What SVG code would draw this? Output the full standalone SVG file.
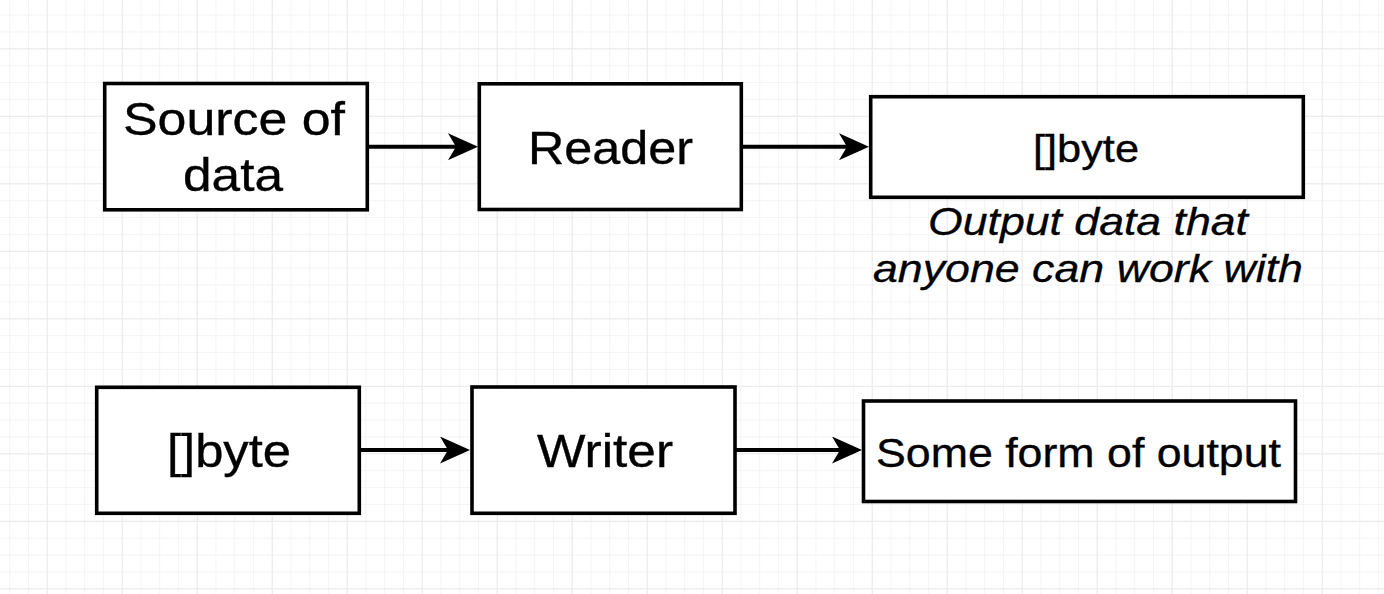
<svg xmlns="http://www.w3.org/2000/svg" width="1384" height="594" viewBox="0 0 1384 594">
  <style>
    .box { fill: #ffffff; stroke: #000000; stroke-width: 3.6; }
    .edge { fill: none; stroke: #000000; stroke-width: 4; }
    .lbl { font-family: "Liberation Sans", Arial, Helvetica, sans-serif; fill: #000000; stroke: #000000; stroke-width: 0.35; }
    .note { font-family: "Liberation Sans", Arial, Helvetica, sans-serif; font-style: italic; fill: #000000; stroke: #000000; stroke-width: 0.3; }
  </style>
  <defs>
    <!-- minor grid: 4 cells per major cell -->
    <pattern id="gridMinor" patternUnits="userSpaceOnUse" x="46.7" y="48.3" width="18.75" height="16.875">
      <path d="M0,0.5 H18.75 M0.5,0 V16.875" stroke="#f4f4f4" stroke-width="1" fill="none"/>
    </pattern>
    <pattern id="gridMajor" patternUnits="userSpaceOnUse" x="46.7" y="48.3" width="75" height="67.5">
      <path d="M0,0.5 H75 M0.5,0 V67.5" stroke="#eaeaea" stroke-width="1" fill="none"/>
    </pattern>
    <marker id="arrow" markerUnits="userSpaceOnUse" viewBox="0 0 30 27" refX="8" refY="13.5" markerWidth="30" markerHeight="27" orient="auto">
      <path d="M30,13.5 L0,0 L8,13.5 L0,27 Z" fill="#000000"/>
    </marker>
  </defs>

  <!-- canvas background -->
  <rect x="0" y="0" width="1384" height="594" fill="#ffffff"/>
  <rect x="0" y="0" width="1384" height="594" fill="url(#gridMinor)"/>
  <rect x="0" y="0" width="1384" height="594" fill="url(#gridMajor)"/>

  <!-- connectors -->
  <g id="connectors">
    <line class="edge" x1="367.3" y1="146.7" x2="456" y2="146.7" marker-end="url(#arrow)"/>
    <line class="edge" x1="741.3" y1="146.7" x2="847" y2="146.7" marker-end="url(#arrow)"/>
    <line class="edge" x1="359.3" y1="450" x2="448" y2="450" marker-end="url(#arrow)"/>
    <line class="edge" x1="735" y1="450" x2="840" y2="450" marker-end="url(#arrow)"/>
  </g>

  <!-- top row: reading -->
  <g id="source">
    <rect class="box" x="104.7" y="83.5" width="262.6" height="126.3"/>
    <text class="lbl" font-size="46.5" x="123" y="135" textLength="222" lengthAdjust="spacingAndGlyphs">Source of</text>
    <text class="lbl" font-size="46.5" x="183" y="191" textLength="100" lengthAdjust="spacingAndGlyphs">data</text>
  </g>
  <g id="reader">
    <rect class="box" x="479.3" y="83.8" width="262" height="125.7"/>
    <text class="lbl" font-size="46.5" x="528" y="163.5" textLength="165" lengthAdjust="spacingAndGlyphs">Reader</text>
  </g>
  <g id="bytes-out">
    <rect class="box" x="870.7" y="96.7" width="432.6" height="100.6"/>
    <text class="lbl" font-size="39" x="1033" y="162" textLength="106" lengthAdjust="spacingAndGlyphs">[]byte</text>
  </g>
  <g id="bytes-out-note">
    <text class="note" font-size="39" x="928" y="235" textLength="320" lengthAdjust="spacingAndGlyphs">Output data that</text>
    <text class="note" font-size="39" x="873" y="281.5" textLength="430" lengthAdjust="spacingAndGlyphs">anyone can work with</text>
  </g>

  <!-- bottom row: writing -->
  <g id="bytes-in">
    <rect class="box" x="96.7" y="387.3" width="262.6" height="126"/>
    <text class="lbl" font-size="46" x="167" y="467" textLength="124" lengthAdjust="spacingAndGlyphs">[]byte</text>
  </g>
  <g id="writer">
    <rect class="box" x="472" y="387" width="263" height="126.3"/>
    <text class="lbl" font-size="46.5" x="537" y="467" textLength="136" lengthAdjust="spacingAndGlyphs">Writer</text>
  </g>
  <g id="output">
    <rect class="box" x="863.5" y="401" width="432" height="100.5"/>
    <text class="lbl" font-size="40" x="876" y="466.5" textLength="405" lengthAdjust="spacingAndGlyphs">Some form of output</text>
  </g>
</svg>
